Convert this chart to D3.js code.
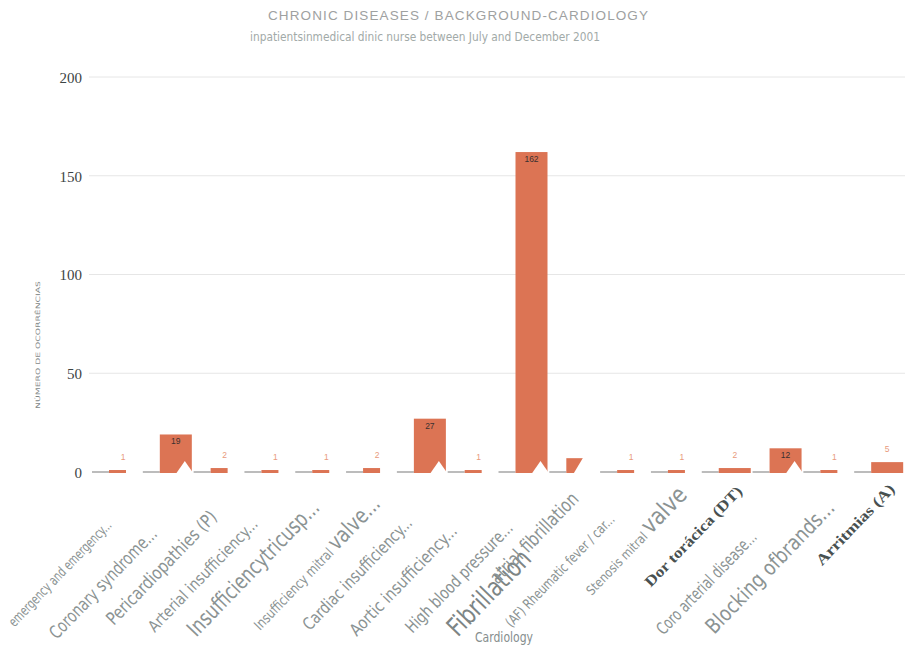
<!DOCTYPE html>
<html>
<head>
<meta charset="utf-8">
<script src="https://cdn.jsdelivr.net/npm/d3@7/dist/d3.min.js"></script>
<style>
  html, body { margin: 0; padding: 0; background: #fff; }
  svg { display: block; }
</style>
</head>
<body>
<svg id="chart" width="909" height="648"></svg>
<script>
// ---- data ----
const categories = [
  "emergency and emergency...",
  "Coronary syndrome...",
  "Pericardiopathies (P)",
  "Arterial insufficiency...",
  "Insufficiencytricusp...",
  "Insufficiency mitral valve...",
  "Cardiac insufficiency...",
  "Aortic insufficiency...",
  "High blood pressure...",
  "Fibrillation atrial fibrillation",
  "(AF) Rheumatic fever / car...",
  "Stenosis mitral valve",
  "Dor torácica (DT)",
  "Coro arterial disease...",
  "Blocking ofbrands...",
  "Arritmias (A)"
];
const counts = [1, 19, 2, 1, 1, 2, 27, 1, 162, 7, 1, 1, 2, 12, 1, 5];
const countShown = [true, true, true, true, true, true, true, true, true, false, true, true, true, true, true, true];
const yTicks = [0, 50, 100, 150, 200];

const title = "CHRONIC DISEASES / BACKGROUND-CARDIOLOGY";
const subtitle = "inpatientsinmedical dinic nurse between July and December 2001";
const xTitle = "Cardiology";
const yTitle = "NÚMERO DE OCORRÊNCIAS";

// ---- layout / style ----
const svg = d3.select("#chart");
const plot = { left: 92, right: 905, top: 77, bottom: 472 };
const barColor = "#dc7454";
const labelGray = "#8b9393";
const narrowFont = "'Liberation Sans Narrow','DejaVu Sans Condensed','Arial Narrow','Liberation Sans',sans-serif";
const serifFont = "'Liberation Serif','DejaVu Serif',serif";

const x = d3.scaleBand().domain(categories).range([plot.left, plot.right]).padding(0);
const y = d3.scaleLinear().domain([0, 200]).range([plot.bottom, plot.top]);

// bar geometry inside each slot: a grey lead-in, then the bar
const lead = 17;
const wideSet = new Set([1, 6, 8, 12, 13, 15]);
const notched = new Set([1, 6, 8, 9, 13]);
const barW = i => wideSet.has(i) ? 32 : 17;

// tick label styling (offset of text end from slot centre, size, drawn length)
const tickStyle = [
  { dx: -5,  dy: 54, size: 14, len: 141 },
  { dx: -10, dy: 63, size: 18, len: 146 },
  { dx: -1,  dy: 46, size: 18, len: 150 },
  { dx: -11, dy: 53, size: 16, len: 150 },
  { dx: 0,   dy: 37, size: 22, len: 179 },
  { dx: 10,  dy: 33, size: 14, tail: 22, len: 175 },
  { dx: -9,  dy: 52, size: 17, len: 149 },
  { dx: -15, dy: 60, size: 17, len: 146 },
  { dx: -10, dy: 57, size: 17, len: 146 },
  { dx: 5,   dy: 28, size: 19, len: 118, head: { dx: -42, dy: 88, size: 26, len: 108 } },
  { dx: -10, dy: 48, size: 14, len: 150 },
  { dx: 12,  dy: 24, size: 13, tail: 24, len: 139 },
  { dx: 16,  dy: 20, size: 15, serif: true, len: 133 },
  { dx: -20, dy: 66, size: 17, len: 136 },
  { dx: 7,   dy: 37, size: 21, len: 175 },
  { dx: 16,  dy: 18, size: 15, serif: true, len: 106 }
];
const angle = -46;

// ---- titles ----
svg.append("text")
  .attr("x", 458).attr("y", 20)
  .attr("text-anchor", "middle")
  .attr("font-family", "'Liberation Sans',Arial,sans-serif")
  .attr("font-size", 13.5)
  .attr("fill", "#9ea1a1")
  .attr("textLength", 380)
  .attr("lengthAdjust", "spacing")
  .text(title);

svg.append("text")
  .attr("x", 425).attr("y", 41)
  .attr("text-anchor", "middle")
  .attr("font-family", narrowFont)
  .attr("font-size", 12.5)
  .attr("fill", "#a2aaa8")
  .attr("textLength", 350)
  .attr("lengthAdjust", "spacingAndGlyphs")
  .text(subtitle);

// ---- grid + y axis ----
const yAxis = d3.axisLeft(y).tickValues(yTicks).tickSize(0).tickPadding(0);
const gy = svg.append("g").attr("transform", `translate(82,0)`).call(yAxis);
gy.select(".domain").remove();
gy.selectAll("text")
  .attr("font-family", serifFont)
  .attr("font-size", 15)
  .attr("fill", "#3c4444")
  .attr("dy", "0.35em");

svg.append("g").selectAll("line")
  .data(yTicks.filter(t => t > 0))
  .join("line")
  .attr("x1", 89).attr("x2", plot.right)
  .attr("y1", d => y(d)).attr("y2", d => y(d))
  .attr("stroke", "#e6e6e6")
  .attr("stroke-width", 1);

svg.append("text")
  .attr("transform", `translate(40,345) rotate(-90)`)
  .attr("text-anchor", "middle")
  .attr("font-family", narrowFont)
  .attr("font-size", 6)
  .attr("fill", "#7f8787")
  .attr("textLength", 128)
  .attr("lengthAdjust", "spacingAndGlyphs")
  .text(yTitle);

// ---- bars ----
const gBars = svg.append("g");
const y0 = y(0);

// grey lead-in segments along the baseline
gBars.selectAll("line.lead")
  .data(categories)
  .join("line")
  .attr("class", "lead")
  .attr("x1", d => x(d))
  .attr("x2", d => x(d) + lead)
  .attr("y1", y0).attr("y2", y0)
  .attr("stroke", "#bcbcbc")
  .attr("stroke-width", 2);

gBars.selectAll("rect.bar")
  .data(categories)
  .join("rect")
  .attr("class", "bar")
  .attr("x", d => x(d) + lead)
  .attr("y", (d, i) => y(counts[i]))
  .attr("width", (d, i) => barW(i))
  .attr("height", (d, i) => y0 - y(counts[i]) + 1)
  .attr("fill", barColor);

// white notch cut into the foot of some bars
gBars.selectAll("path.notch")
  .data(categories.map((d, i) => i).filter(i => notched.has(i)))
  .join("path")
  .attr("class", "notch")
  .attr("fill", "#fff")
  .attr("d", i => {
    const bx = x(categories[i]) + lead;
    const w = barW(i);
    if (wideSet.has(i)) {
      const ax = bx + 25, ay = y0 - 11;
      return `M${bx + 16},${y0 + 2}L${ax},${ay}L${bx + 34},${y0 + 2}Z`;
    }
    const ax = bx + w, ay = y(counts[i]);
    return `M${ax - 10},${y0 + 2}L${ax},${ay - 1}L${ax + 12},${y0 + 2}Z`;
  });

// ---- value labels ----
gBars.selectAll("text.val")
  .data(categories.map((d, i) => i).filter(i => countShown[i]))
  .join("text")
  .attr("class", "val")
  .attr("font-family", "'Liberation Sans',Arial,sans-serif")
  .attr("font-size", 8.5)
  .attr("text-anchor", "middle")
  .each(function (i) {
    const bx = x(categories[i]) + lead;
    const w = barW(i);
    const top = y(counts[i]);
    const inside = counts[i] >= 10;
    const sel = d3.select(this);
    if (inside) {
      sel.attr("x", bx + w / 2).attr("y", top + 10).attr("fill", "#3a3030");
    } else {
      sel.attr("x", wideSet.has(i) ? bx + w / 2 : bx + w - 3)
        .attr("y", top - 10)
        .attr("fill", "#e89a7c");
    }
    sel.text(counts[i]);
  });

// ---- x tick labels ----
const gx = svg.append("g");
categories.forEach((cat, i) => {
  const st = tickStyle[i];
  const cx = x(cat) + x.bandwidth() / 2;
  let txt = cat;
  if (st.head) {
    const sp = cat.indexOf(" ");
    const headText = cat.slice(0, sp);
    txt = cat.slice(sp + 1);
    gx.append("text")
      .attr("transform", `translate(${cx + st.head.dx},${y0 + st.head.dy}) rotate(${angle})`)
      .attr("text-anchor", "end")
      .attr("font-family", narrowFont)
      .attr("font-size", st.head.size)
      .attr("fill", "#7d8585")
      .attr("textLength", st.head.len)
      .attr("lengthAdjust", "spacingAndGlyphs")
      .text(headText);
  }
  const t = gx.append("text")
    .attr("transform", `translate(${cx + st.dx},${y0 + st.dy}) rotate(${angle})`)
    .attr("text-anchor", "end")
    .attr("font-family", st.serif ? serifFont : narrowFont)
    .attr("font-weight", st.serif ? "bold" : "normal")
    .attr("font-size", st.size)
    .attr("fill", st.serif ? "#485050" : labelGray)
    .attr("textLength", st.len)
    .attr("lengthAdjust", "spacingAndGlyphs");
  if (st.tail) {
    const sp = txt.lastIndexOf(" ");
    t.append("tspan").text(txt.slice(0, sp + 1));
    t.append("tspan").attr("font-size", st.tail).text(txt.slice(sp + 1));
  } else {
    t.text(txt);
  }
});

svg.append("text")
  .attr("x", 504).attr("y", 642)
  .attr("text-anchor", "middle")
  .attr("font-family", narrowFont)
  .attr("font-size", 14)
  .attr("fill", "#868e8e")
  .attr("textLength", 58)
  .attr("lengthAdjust", "spacingAndGlyphs")
  .text(xTitle);
</script>
</body>
</html>
